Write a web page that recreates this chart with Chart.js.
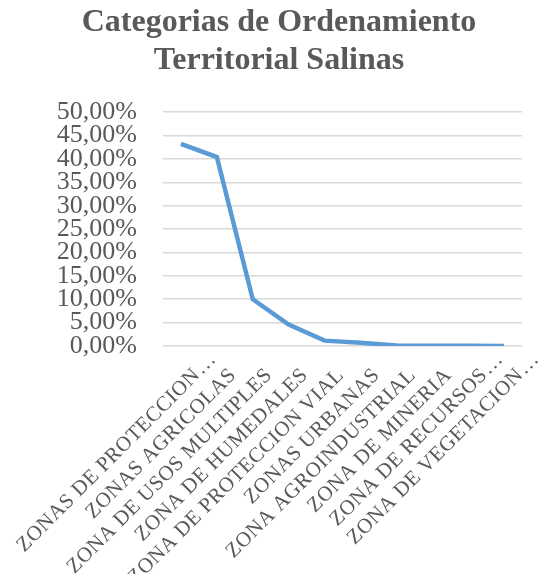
<!DOCTYPE html>
<html>
<head>
<meta charset="utf-8">
<script src="https://cdn.jsdelivr.net/npm/chart.js@4/dist/chart.umd.min.js"></script>
<style>
  html, body { margin: 0; padding: 0; background: #fff; }
  #wrap { width: 542px; height: 574px; }
</style>
</head>
<body>
<div id="wrap"><canvas id="myChart"></canvas></div>
<script>
const categories = [
  "ZONAS DE PROTECCION…",
  "ZONAS AGRICOLAS",
  "ZONA DE USOS MULTIPLES",
  "ZONA DE HUMEDALES",
  "ZONA DE PROTECCION VIAL",
  "ZONAS URBANAS",
  "ZONA AGROINDUSTRIAL",
  "ZONA DE MINERIA",
  "ZONA DE RECURSOS…",
  "ZONA DE VEGETACION…"
];
const shares = [0.432, 0.404, 0.100, 0.046, 0.0115, 0.007, 0.001, 0.0005, 0.0003, 0.0002];
const titleLines = ["Categorias de Ordenamiento", "Territorial Salinas"];

const grey = "#595959";

// excel style slanted category labels, drawn at the scale's own tick pixels.
// the text is right aligned at the anchor and a trailing "…" hangs past it
const slantLabels = {
  id: "slantLabels",
  afterDraw(chart) {
    const xs = chart.scales.x;
    const ctx = chart.ctx;
    ctx.save();
    ctx.font = "21px 'Liberation Serif'";
    ctx.letterSpacing = "0.5px";
    ctx.fillStyle = grey;
    ctx.textBaseline = "alphabetic";
    categories.forEach((lab, i) => {
      const cut = lab.endsWith("…");
      const body = cut ? lab.slice(0, -1) : lab;
      ctx.save();
      ctx.translate(xs.getPixelForTick(i) + 20, xs.top + 30);
      ctx.rotate(-Math.PI / 4);
      ctx.textAlign = "right";
      ctx.fillText(body, 0, 0);
      if (cut) {
        ctx.textAlign = "left";
        ctx.fillText("…", 1, 0);
      }
      ctx.restore();
    });
    ctx.restore();
  }
};

new Chart("myChart", {
  type: "line",
  data: {
    labels: categories,
    datasets: [{
      data: shares,
      borderColor: "#5B9BD5",
      borderWidth: 4.5,
      pointRadius: 0,
      tension: 0,
      fill: false
    }]
  },
  options: {
    responsive: true,
    maintainAspectRatio: false,
    animation: false,
    layout: { padding: { left: 36, right: 20, top: 4, bottom: 228 } },
    plugins: {
      legend: { display: false },
      tooltip: { enabled: false },
      title: {
        display: true,
        text: titleLines,
        color: grey,
        font: { family: "Liberation Serif", size: 32, weight: "bold", lineHeight: 1.19 },
        padding: { top: 0, bottom: 32 }
      }
    },
    scales: {
      x: {
        offset: true,
        grid: { display: false, drawTicks: false },
        border: { display: false },
        ticks: { display: false }
      },
      y: {
        min: 0,
        max: 0.5,
        grid: { color: "#D9D9D9", lineWidth: 1.5, drawTicks: false },
        border: { display: false },
        afterFit: s => { s.width = 127; },
        ticks: {
          stepSize: 0.05,
          autoSkip: false,
          color: grey,
          padding: 26,
          font: { family: "Liberation Serif", size: 26 },
          callback: v => (v * 100).toFixed(2).replace(".", ",") + "%"
        }
      }
    }
  },
  plugins: [slantLabels]
});
</script>
</body>
</html>
